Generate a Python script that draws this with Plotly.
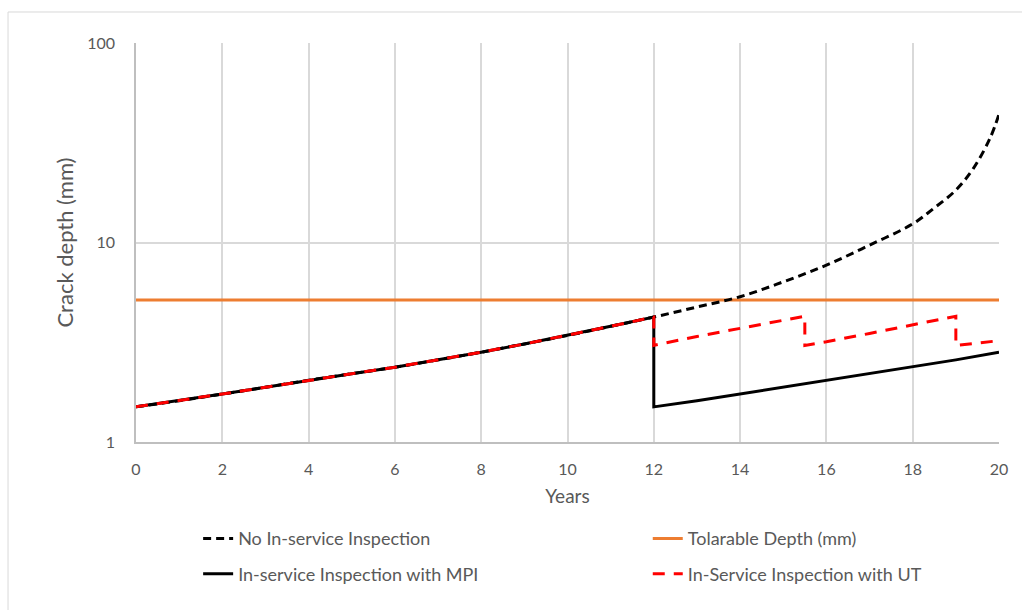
import plotly.graph_objects as go

# ---- data ----
years_none = [0, 1, 2, 3, 4, 5, 6, 7, 8, 9, 10, 11, 12, 13, 14, 15, 16, 17, 18,
              18.5, 19, 19.4, 19.8, 20]
depth_none = [1.5, 1.61, 1.74, 1.88, 2.04, 2.2, 2.37, 2.58, 2.82, 3.1, 3.42, 3.8, 4.23,
              4.75, 5.35, 6.35, 7.7, 9.7, 12.4, 14.9, 18.3, 23.4, 33.6, 44.0]

years_tol = [0, 20]
depth_tol = [5.15, 5.15]

years_mpi = [0, 1, 2, 3, 4, 5, 6, 7, 8, 9, 10, 11, 12, 12, 13, 14, 15, 16, 17, 18, 19, 20]
depth_mpi = [1.5, 1.61, 1.74, 1.88, 2.04, 2.2, 2.37, 2.58, 2.82, 3.1, 3.42, 3.8, 4.23,
             1.5, 1.61, 1.74, 1.88, 2.04, 2.2, 2.37, 2.58, 2.82]

years_ut = [0, 1, 2, 3, 4, 5, 6, 7, 8, 9, 10, 11, 12, 12, 13, 14, 15, 15.5, 15.5,
            16, 17, 18, 19, 19, 20]
depth_ut = [1.5, 1.61, 1.74, 1.88, 2.04, 2.2, 2.37, 2.58, 2.82, 3.1, 3.42, 3.8, 4.23,
            3.05, 3.38, 3.72, 4.08, 4.27, 3.05, 3.18, 3.5, 3.86, 4.27, 3.05, 3.22]

x_ticks = [0, 2, 4, 6, 8, 10, 12, 14, 16, 18, 20]
y_ticks = [1, 10, 100]

FONT = "Lato, Open Sans, sans-serif"
TXT = "#595959"

fig = go.Figure()
fig.add_trace(go.Scatter(x=years_tol, y=depth_tol, mode="lines",
                         name="Tolarable Depth (mm)", legend="legend2", legendgroup="b1",
                         line=dict(color="#ED7D31", width=3)))
fig.add_trace(go.Scatter(x=years_none, y=depth_none, mode="lines", line_shape="spline",
                         name="No In-service Inspection", legend="legend", legendgroup="a1",
                         line=dict(color="black", width=3, dash="8px,5px")))
fig.add_trace(go.Scatter(x=years_mpi, y=depth_mpi, mode="lines",
                         name="In-service Inspection with MPI", legend="legend", legendgroup="a2",
                         line=dict(color="black", width=3)))
fig.add_trace(go.Scatter(x=years_ut, y=depth_ut, mode="lines",
                         name="In-Service Inspection with UT", legend="legend2", legendgroup="b2",
                         line=dict(color="#FF0000", width=3, dash="12px,9px")))

leg_common = dict(orientation="v", yanchor="top", y=-0.196, xanchor="left",
                  font=dict(family=FONT, size=18, color=TXT),
                  traceorder="grouped", tracegroupgap=9, bgcolor="rgba(0,0,0,0)")

fig.update_layout(
    width=1022, height=610,
    margin=dict(l=136, r=23, t=43, b=168, autoexpand=False),
    paper_bgcolor="white", plot_bgcolor="white",
    font=dict(family=FONT, size=16, color=TXT),
    showlegend=True,
    legend=dict(x=0.072, **leg_common),
    legend2=dict(x=0.593, **leg_common),
    shapes=[dict(type="rect", xref="paper", yref="paper",
                 x0=-0.1483, x1=1.05, y0=-0.5, y1=1.0777,
                 line=dict(color="#D9D9D9", width=1), fillcolor="rgba(0,0,0,0)",
                 layer="below")],
)
fig.update_xaxes(range=[0, 20], tickvals=x_ticks, ticktext=[str(v) for v in x_ticks],
                 showgrid=True, gridcolor="#D9D9D9", gridwidth=1.5,
                 showline=True, linecolor="#BFBFBF", linewidth=1.5,
                 ticks="", zeroline=False, ticklabelstandoff=12,
                 tickfont=dict(size=16, color=TXT),
                 title=dict(text="Years", font=dict(size=19, color=TXT), standoff=13))
fig.update_yaxes(type="log", range=[0, 2], tickvals=y_ticks,
                 ticktext=[str(v) for v in y_ticks],
                 showgrid=True, gridcolor="#D9D9D9", gridwidth=1.5,
                 showline=True, linecolor="#BFBFBF", linewidth=1.5,
                 ticks="", zeroline=False, ticklabelstandoff=16,
                 tickfont=dict(size=16, color=TXT),
                 title=dict(text="Crack depth (mm)", font=dict(size=22, color=TXT), standoff=8))

fig.write_html("out.html")
